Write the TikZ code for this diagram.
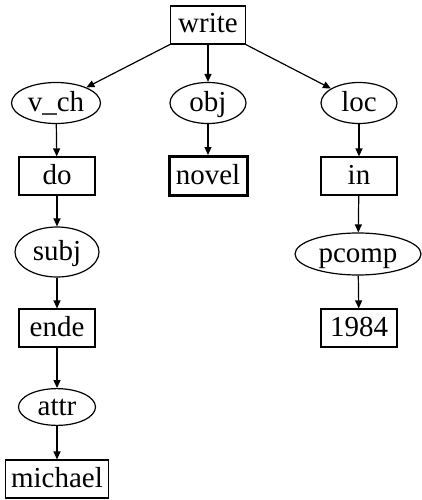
\documentclass[tikz,border=0pt]{standalone}
\usepackage{fontspec}
\setmainfont{Liberation Serif}
\usetikzlibrary{shapes.geometric,arrows.meta}
\begin{document}
\begin{tikzpicture}[x=1pt,y=-1pt,
  base/.style={draw=black,line width=1.2pt,inner sep=0pt,font=\fontsize{29}{34}\selectfont,text height=21pt,text depth=5pt},
  rbox/.style={base,rectangle,minimum height=38pt},
  ell/.style={base,ellipse},
  edge/.style={draw=black,line width=1.2pt,-{Triangle[length=8pt,width=7pt]}}]
\useasboundingbox (0,0) rectangle (422,500);
\node[rbox,minimum width=75pt] (write) at (208,25) {write};
\node[ell,minimum width=89pt,minimum height=41pt] (vch) at (56,103) {v\_ch};
\node[ell,minimum width=76pt,minimum height=41pt] (obj) at (208,103) {obj};
\node[ell,minimum width=76pt,minimum height=41pt] (loc) at (359,103) {loc};
\node[rbox,minimum width=76pt] (do) at (57,176) {do};
\node[rbox,minimum width=78pt,minimum height=39pt,line width=3pt] (novel) at (208,176) {novel};
\node[rbox,minimum width=76pt] (in) at (359,176) {in};
\node[ell,minimum width=84pt,minimum height=50pt] (subj) at (57,252) {subj};
\node[ell,minimum width=126pt,minimum height=42pt] (pcomp) at (358,254) {pcomp};
\node[rbox,minimum width=76pt] (ende) at (57,328) {ende};
\node[rbox,minimum width=76pt] (y1984) at (359,328) {1984};
\node[ell,minimum width=77pt,minimum height=32pt] (attr) at (57,407) {attr};
\node[rbox,minimum width=103pt] (michael) at (57,479) {michael};
\draw[edge] (write) -- (vch);
\draw[edge] (write) -- (obj);
\draw[edge] (write) -- (loc);
\draw[edge] (vch) -- (do);
\draw[edge] (obj) -- (novel);
\draw[edge] (loc) -- (in);
\draw[edge] (do) -- (subj);
\draw[edge] (in) -- (pcomp);
\draw[edge] (subj) -- (ende);
\draw[edge] (pcomp) -- (y1984);
\draw[edge] (ende) -- (attr);
\draw[edge] (attr) -- (michael);
\end{tikzpicture}
\end{document}
